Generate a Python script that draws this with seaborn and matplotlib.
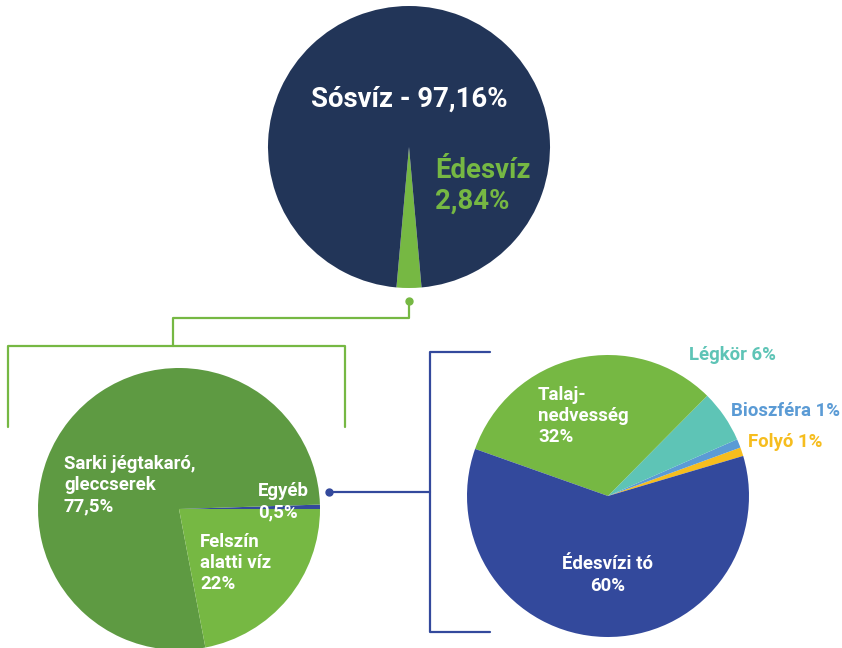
import matplotlib
matplotlib.use("Agg")
import matplotlib.pyplot as plt
import seaborn as sns

# --- data -------------------------------------------------------------
top_labels = ["Édesvíz", "Sósvíz"]
top_values = [2.84, 97.16]

fresh_labels = ["Egyéb", "Sarki jégtakaró, gleccserek", "Felszín alatti víz"]
fresh_values = [0.5, 77.5, 22.0]

other_labels = ["Folyó", "Bioszféra", "Légkör", "Talajnedvesség", "Édesvízi tó"]
other_values = [1, 1, 6, 32, 60]

# --- colours ----------------------------------------------------------
NAVY = "#223558"
GREEN = "#76b843"
DARK_GREEN = "#5e9a42"
BLUE = "#33499c"
TEAL = "#5ec4b6"
SKY = "#5b9bd5"
YELLOW = "#f6bd1e"

sns.set_theme(style="white")
plt.rcParams["font.family"] = ["Roboto", "DejaVu Sans"]

W, H = 842, 648
fig = plt.figure(figsize=(W / 100, H / 100), dpi=100)
ax = fig.add_axes([0, 0, 1, 1])


def Y(y_img):
    # picture coords (top-left origin) -> axes coords
    return H - y_img


R = 141
wp = dict(linewidth=0)

# top pie: salt vs fresh water, fresh slice centred straight down
ax.pie(top_values, colors=[GREEN, NAVY], radius=R, center=(409, Y(147)),
       startangle=270 - top_values[0] / 100 * 360 / 2, counterclock=True,
       wedgeprops=wp)

# left pie: fresh water split
ax.pie(fresh_values, colors=[BLUE, DARK_GREEN, GREEN], radius=R,
       center=(179, Y(509)), startangle=0, counterclock=True, wedgeprops=wp)

# right pie: "other" split
ax.pie(other_values, colors=[YELLOW, SKY, TEAL, GREEN, BLUE], radius=R,
       center=(608, Y(496)), startangle=16.5, counterclock=True, wedgeprops=wp)

ax.set_xlim(0, W)
ax.set_ylim(0, H)
ax.set_aspect("equal")
ax.axis("off")

# --- connectors -------------------------------------------------------
lw = 1.6
ax.plot([409, 409, 173, 173], [Y(301), Y(318), Y(318), Y(346)], color=GREEN, lw=lw)
ax.plot([8, 8, 345, 345], [Y(427), Y(346), Y(346), Y(427)], color=GREEN, lw=lw)
ax.plot([409], [Y(301)], "o", color=GREEN, ms=5)

ax.plot([329, 430], [Y(492), Y(492)], color=BLUE, lw=lw)
ax.plot([490, 430, 430, 490], [Y(352), Y(352), Y(632), Y(632)], color=BLUE, lw=lw)
ax.plot([329], [Y(492)], "o", color=BLUE, ms=5)

# --- labels -----------------------------------------------------------
big = dict(fontsize=19.8, fontweight="bold", linespacing=1.18)
small = dict(fontsize=13.4, fontweight="bold", linespacing=1.22)

ax.text(409, Y(99), "Sósvíz - 97,16%", color="white", ha="center", va="center", **big)
ax.text(435, Y(186), "Édesvíz\n2,84%", color=GREEN, ha="left", va="center", **big)

ax.text(64, Y(485), "Sarki jégtakaró,\ngleccserek\n77,5%", color="white",
        ha="left", va="center", **small)
ax.text(258, Y(502), "Egyéb\n0,5%", color="white", ha="left", va="center", **small)
ax.text(200, Y(563), "Felszín\nalatti víz\n22%", color="white",
        ha="left", va="center", **small)

ax.text(538, Y(416), "Talaj-\nnedvesség\n32%", color="white",
        ha="left", va="center", **small)
ax.text(608, Y(575), "Édesvízi tó\n60%", color="white", ha="center", va="center", **small)
ax.text(689, Y(355), "Légkör 6%", color=TEAL, ha="left", va="center", **small)
ax.text(731, Y(411), "Bioszféra 1%", color=SKY, ha="left", va="center", **small)
ax.text(748, Y(442), "Folyó 1%", color=YELLOW, ha="left", va="center", **small)

fig.savefig("out.png", dpi=100, facecolor="white")
